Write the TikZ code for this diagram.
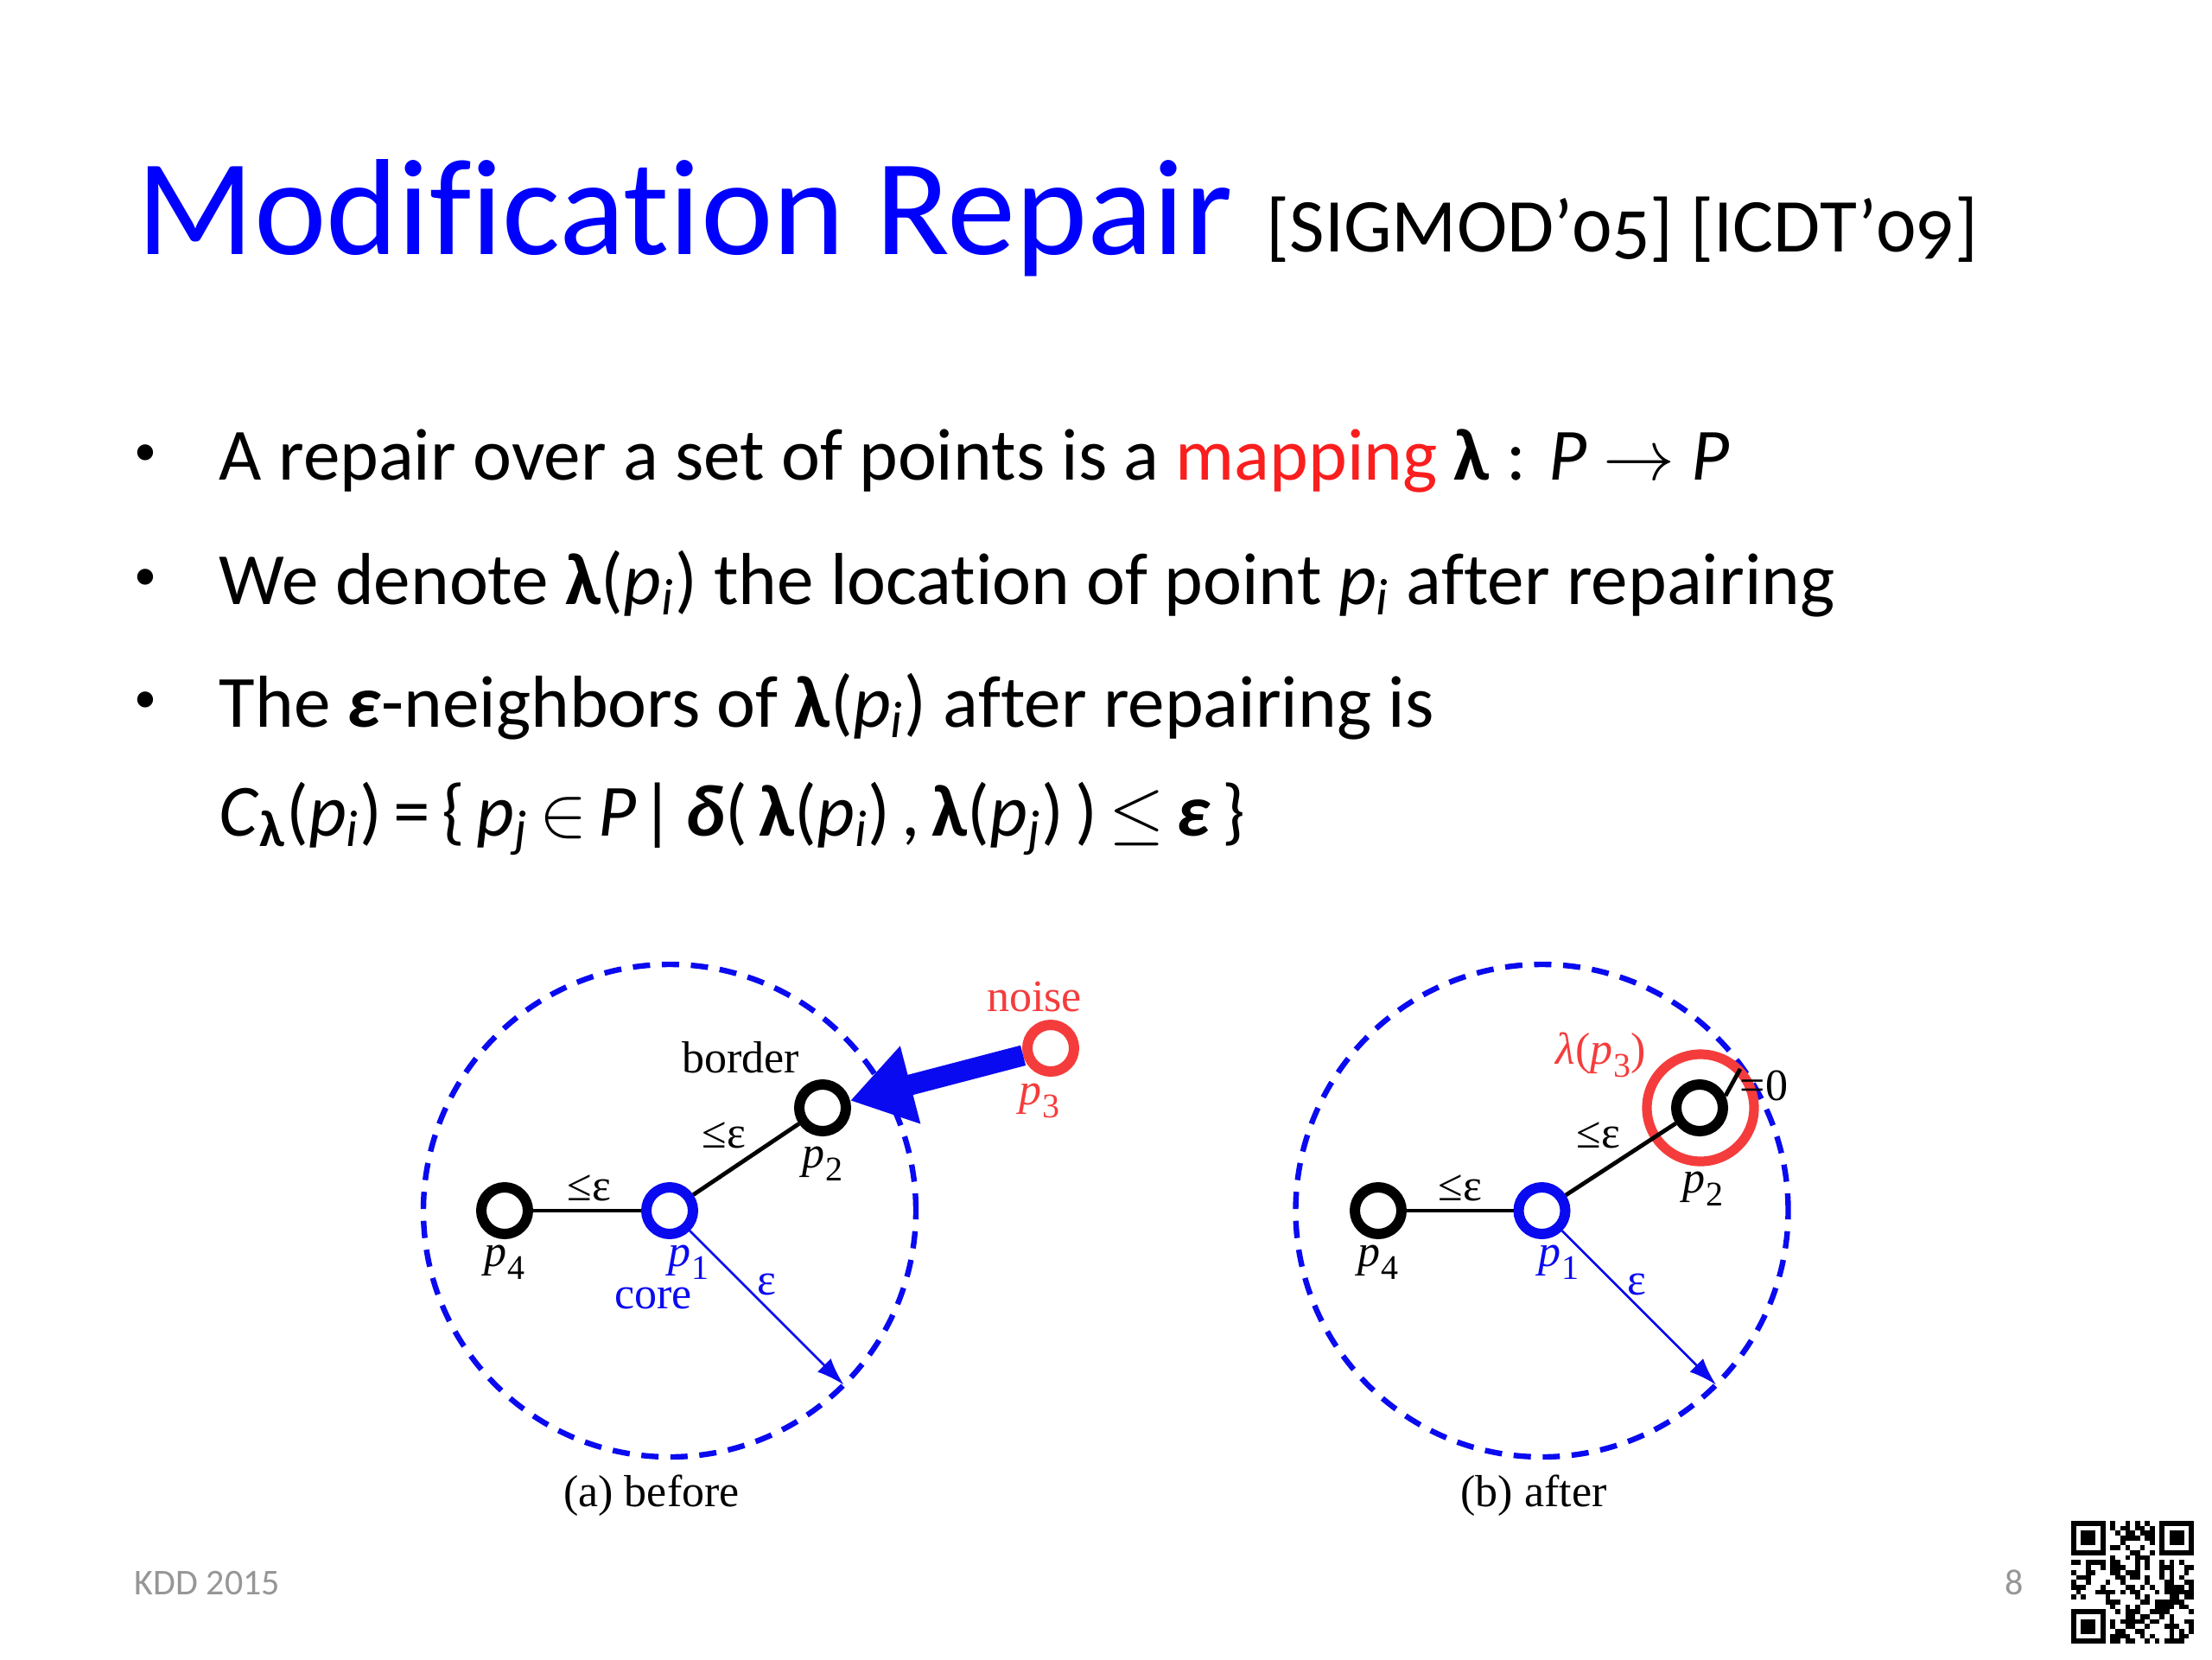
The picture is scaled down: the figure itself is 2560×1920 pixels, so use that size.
\documentclass[tikz,border=0pt]{standalone}
\usepackage{fontspec}
\setmainfont{Carlito}[Ligatures=NoCommon]
\newfontfamily\tnr{Liberation Serif}
\newfontfamily\oldnum[Numbers=OldStyle,Ligatures=NoCommon]{Carlito}
\usetikzlibrary{arrows.meta}
\definecolor{ttlblue}{RGB}{0,0,255}
\definecolor{mapred}{RGB}{250,30,30}
\definecolor{dred}{RGB}{245,60,60}
\definecolor{dblue}{RGB}{10,10,240}
\definecolor{footgray}{RGB}{150,150,150}
\newcommand\psub[1]{\textit{p}\kern0.3pt\raisebox{-0.28em}{\fontsize{10pt}{10pt}\selectfont #1}}
\newcommand\isub[1]{\textsubscript{\textit{#1}}}
\newcommand\blam{\textbf{λ}}
\begin{document}
\begin{tikzpicture}[x=0.25pt,y=-0.25pt,
  ttl/.style={font=\fontsize{39.6pt}{46pt}\selectfont, text=ttlblue, anchor=base west, inner sep=0pt},
  reftxt/.style={font=\oldnum\fontsize{22pt}{26pt}\selectfont, anchor=base west, inner sep=0pt},
  body/.style={font=\fontsize{21.3pt}{26pt}\selectfont, anchor=base west, inner sep=0pt},
  bul/.style={font=\fontsize{13pt}{15pt}\selectfont, anchor=center, inner sep=0pt},
  foot/.style={font=\fontsize{10.5pt}{12pt}\selectfont, text=footgray, anchor=base west, inner sep=0pt},
  ptb/.style={circle, draw=black, line width=3pt, minimum size=13.5pt, inner sep=0pt},
  ptblue/.style={ptb, draw=dblue},
  ptred/.style={ptb, draw=dred},
  ring/.style={circle, draw=dred, line width=2.8pt, minimum size=31pt, inner sep=0pt},
  nbhd/.style={circle, draw=dblue, line width=1.6pt, dash pattern=on 5pt off 3.4pt, minimum size=142.5pt, inner sep=0pt},
  lbl/.style={font=\tnr\fontsize{13pt}{15pt}\selectfont, inner sep=0pt},
  link/.style={draw=black, line width=1.2pt},
  radarrow/.style={draw=dblue, line width=0.7pt, -{Latex[length=8pt,width=5.5pt]}},
  movearrow/.style={draw=dblue, line width=6pt, -{Triangle[length=18pt,width=22pt]}}
]
\path[use as bounding box, fill=white] (0,0) rectangle (2560,1920);

% title
\node[ttl] (title) at (158,294) {Modification Repair};
\node[reftxt] (refs) at (1465,291) {[SIGMOD’05] [ICDT’09]};

% bullets
\node[bul] (b1) at (168,527) {•};
\node[body] (t1) at (253,555) {A repair over a set of points is a \textcolor{mapred}{mapping} \blam{} : \textit{P} ${\rightarrow}$ \textit{P}};
\node[bul] (b2) at (168,671) {•};
\node[body] (t2) at (253,699) {We denote \blam(\textit{p}\isub{i}) the location of point \textit{p}\isub{i} after repairing};
\node[bul] (b3) at (168,813) {•};
\node[body] (t3) at (253,841) {The \textbf{\textit{ε}}-neighbors of \blam(\textit{p}\isub{i}) after repairing is};
\node[body] (t4) at (253,967) {\spaceskip=0.155em\relax\textit{C}\textsubscript{\textbf{λ}}(\textit{p}\isub{i}) = \{ \textit{p}\isub{j} ${\in}$ \textit{P}\kern0.05em| \textbf{\textit{δ}}( \blam(\textit{p}\isub{i}) , \blam(\textit{p}\isub{j}) ) ${\leq}$ \textbf{\textit{ε}} \}};

% ---------- (a) before ----------
\node[nbhd] (ca) at (775,1401) {};
\node[ptb] (a4) at (584,1401) {};
\node[ptblue] (a1) at (775,1401) {};
\node[ptb] (a2) at (952,1282) {};
\node[ptred] (a3) at (1216,1213) {};
\draw[link] (a4) -- (a1);
\draw[link] (a1) -- (a2);
\coordinate (aend) at (976.5,1602.5);
\draw[radarrow] (a1) -- (aend);
\draw[movearrow] (a3) -- (a2);
\node[lbl] (la4) at (584,1461) {\psub{4}};
\node[lbl, text=dblue] (la1) at (797,1461) {\psub{1}};
\node[lbl, text=dblue] (lcore) at (756,1502) {core};
\node[lbl] (la2) at (952,1347) {\psub{2}};
\node[lbl] (lborder) at (857,1224) {border};
\node[lbl, text=dred] (lnoise) at (1197,1154) {noise};
\node[lbl, text=dred] (la3) at (1203,1274) {\psub{3}};
\node[lbl] (le41a) at (682,1375) {≤ε};
\node[lbl] (le12a) at (838,1314) {≤ε};
\node[lbl, text=dblue] (lepsa) at (887,1486) {ε};
\node[lbl] (capa) at (754,1731) {(a) before};

% ---------- (b) after ----------
\node[nbhd] (cb) at (1784.5,1401) {};
\node[ptb] (b4) at (1595,1401) {};
\node[ptblue] (bp1) at (1784.5,1401) {};
\node[ring] (lam3) at (1968,1282) {};
\node[ptb] (bp2) at (1967,1282) {};
\draw[link] (b4) -- (bp1);
\draw[link] (bp1) -- (bp2);
\coordinate (bend) at (1986,1602.5);
\draw[radarrow] (bp1) -- (bend);
\coordinate (tickend) at (2014,1237);
\draw[draw=black, line width=1.2pt] (bp2.25) -- (tickend);
\node[lbl, anchor=base west] (leq) at (2013,1273) {=0};
\node[lbl] (lb4) at (1595,1461) {\psub{4}};
\node[lbl, text=dblue] (lb1) at (1804,1461) {\psub{1}};
\node[lbl] (lb2) at (1971,1376) {\psub{2}};
\node[lbl, text=dred] (llam) at (1853,1221) {\textit{λ}(\psub{3})};
\node[lbl] (le41b) at (1690,1375) {≤ε};
\node[lbl] (le12b) at (1850,1314) {≤ε};
\node[lbl, text=dblue] (lepsb) at (1894,1486) {ε};
\node[lbl] (capb) at (1775,1731) {(b) after};

% footer
\node[foot] (kdd) at (155,1845) {KDD 2015};
\node[foot, anchor=base] (pg) at (2331,1845) {8};

% QR code
\begin{scope}[shift={(2397,1760)}, x=1.42pt, y=-1.42pt]
  \pgfmathsetseed{4242}
  \foreach \i in {0,...,24}{
    \foreach \j in {0,...,24}{
      \pgfmathrandominteger{\qq}{0}{1}
      \ifnum\qq=1 \fill[black] (\i,\j) rectangle +(1,1);\fi
    }
  }
  \foreach \ox/\oy/\wx/\wy in {0/0/0/0, 18/0/17/0, 0/18/0/17}{
    \fill[white] (\wx,\wy) rectangle +(8,8);
    \fill[black] (\ox,\oy) rectangle +(7,7);
    \fill[white] (\ox+1,\oy+1) rectangle +(5,5);
    \fill[black] (\ox+2,\oy+2) rectangle +(3,3);
  }
\end{scope}
\end{tikzpicture}
\end{document}
